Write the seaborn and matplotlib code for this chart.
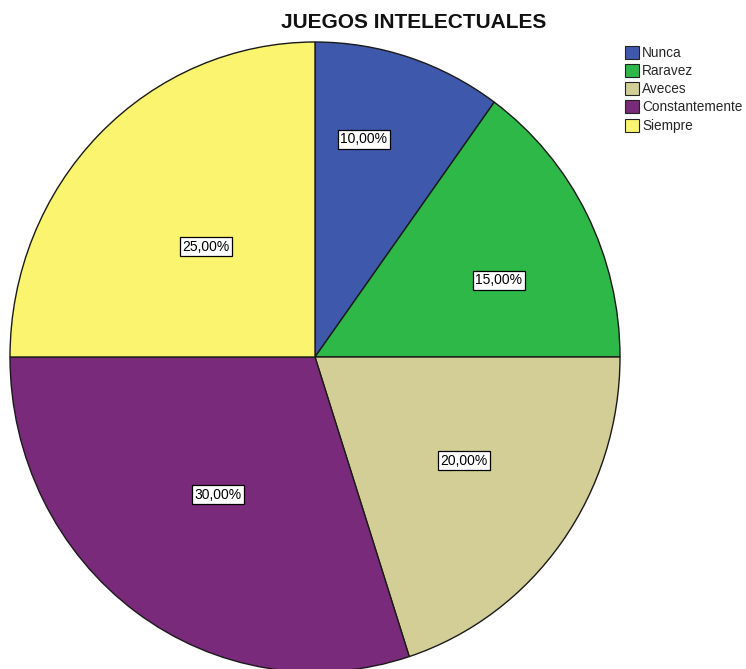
import matplotlib
matplotlib.use("Agg")
import matplotlib.pyplot as plt
import seaborn as sns
import numpy as np

categories = ["Nunca", "Raravez", "Aveces", "Constantemente", "Siempre"]
percentages = [10.0, 15.0, 20.0, 30.0, 25.0]
colors = ["#3E58AC", "#2EB848", "#D2CE96", "#7A2A7A", "#FBF46E"]
title = "JUEGOS INTELECTUALES"

sns.set_theme(style="white")
plt.rcParams["font.family"] = ["Liberation Sans", "DejaVu Sans"]
palette = sns.color_palette(colors)

fig = plt.figure(figsize=(7.46, 6.69), dpi=100)
# pie box: x 10..620 px, y 42..672 px from the top
ax = fig.add_axes([10 / 746, -3 / 669, 610 / 746, 630 / 669])

wedges, texts, autotexts = ax.pie(
    percentages,
    colors=palette,
    startangle=90,
    counterclock=False,
    radius=1.0,
    autopct=lambda p: f"{p:.2f}%".replace(".", ","),
    pctdistance=0.6,
    wedgeprops=dict(edgecolor="#1a1a1a", linewidth=1.0),
    textprops=dict(fontsize=10, color="black"),
)

# placement of the value boxes within each slice (radius fraction, angle shift)
label_radius = [0.71, 0.65, 0.59, 0.54, 0.50]
label_shift = [5.0, -5.0, 2.0, 0.0, 0.5]
angle = 90.0
for t, p, r, s in zip(autotexts, percentages, label_radius, label_shift):
    span = 360.0 * p / sum(percentages)
    mid = np.deg2rad(angle - span / 2 + s)
    t.set_position((r * np.cos(mid), r * np.sin(mid)))
    t.set_bbox(dict(boxstyle="square,pad=0.18", facecolor="white", edgecolor="black", linewidth=0.9))
    angle -= span

ax.set_xlim(-1, 1)
ax.set_ylim(-1, 1)
ax.set_aspect("auto")
ax.axis("off")

fig.text(414 / 746, 1 - 22 / 669, title, ha="center", va="center",
         fontsize=15, fontweight="bold", color="#111111")

leg = fig.legend(
    wedges, categories,
    loc="upper left",
    bbox_to_anchor=(615 / 746, 1 - 36 / 669),
    frameon=False,
    fontsize=9.8,
    handlelength=1.1,
    handleheight=1.1,
    handletextpad=0.2,
    labelspacing=0.3,
    borderpad=0.2,
)
for h in leg.legend_handles:
    h.set_edgecolor("#222222")
    h.set_linewidth(0.8)

fig.savefig("out.png", dpi=100)
